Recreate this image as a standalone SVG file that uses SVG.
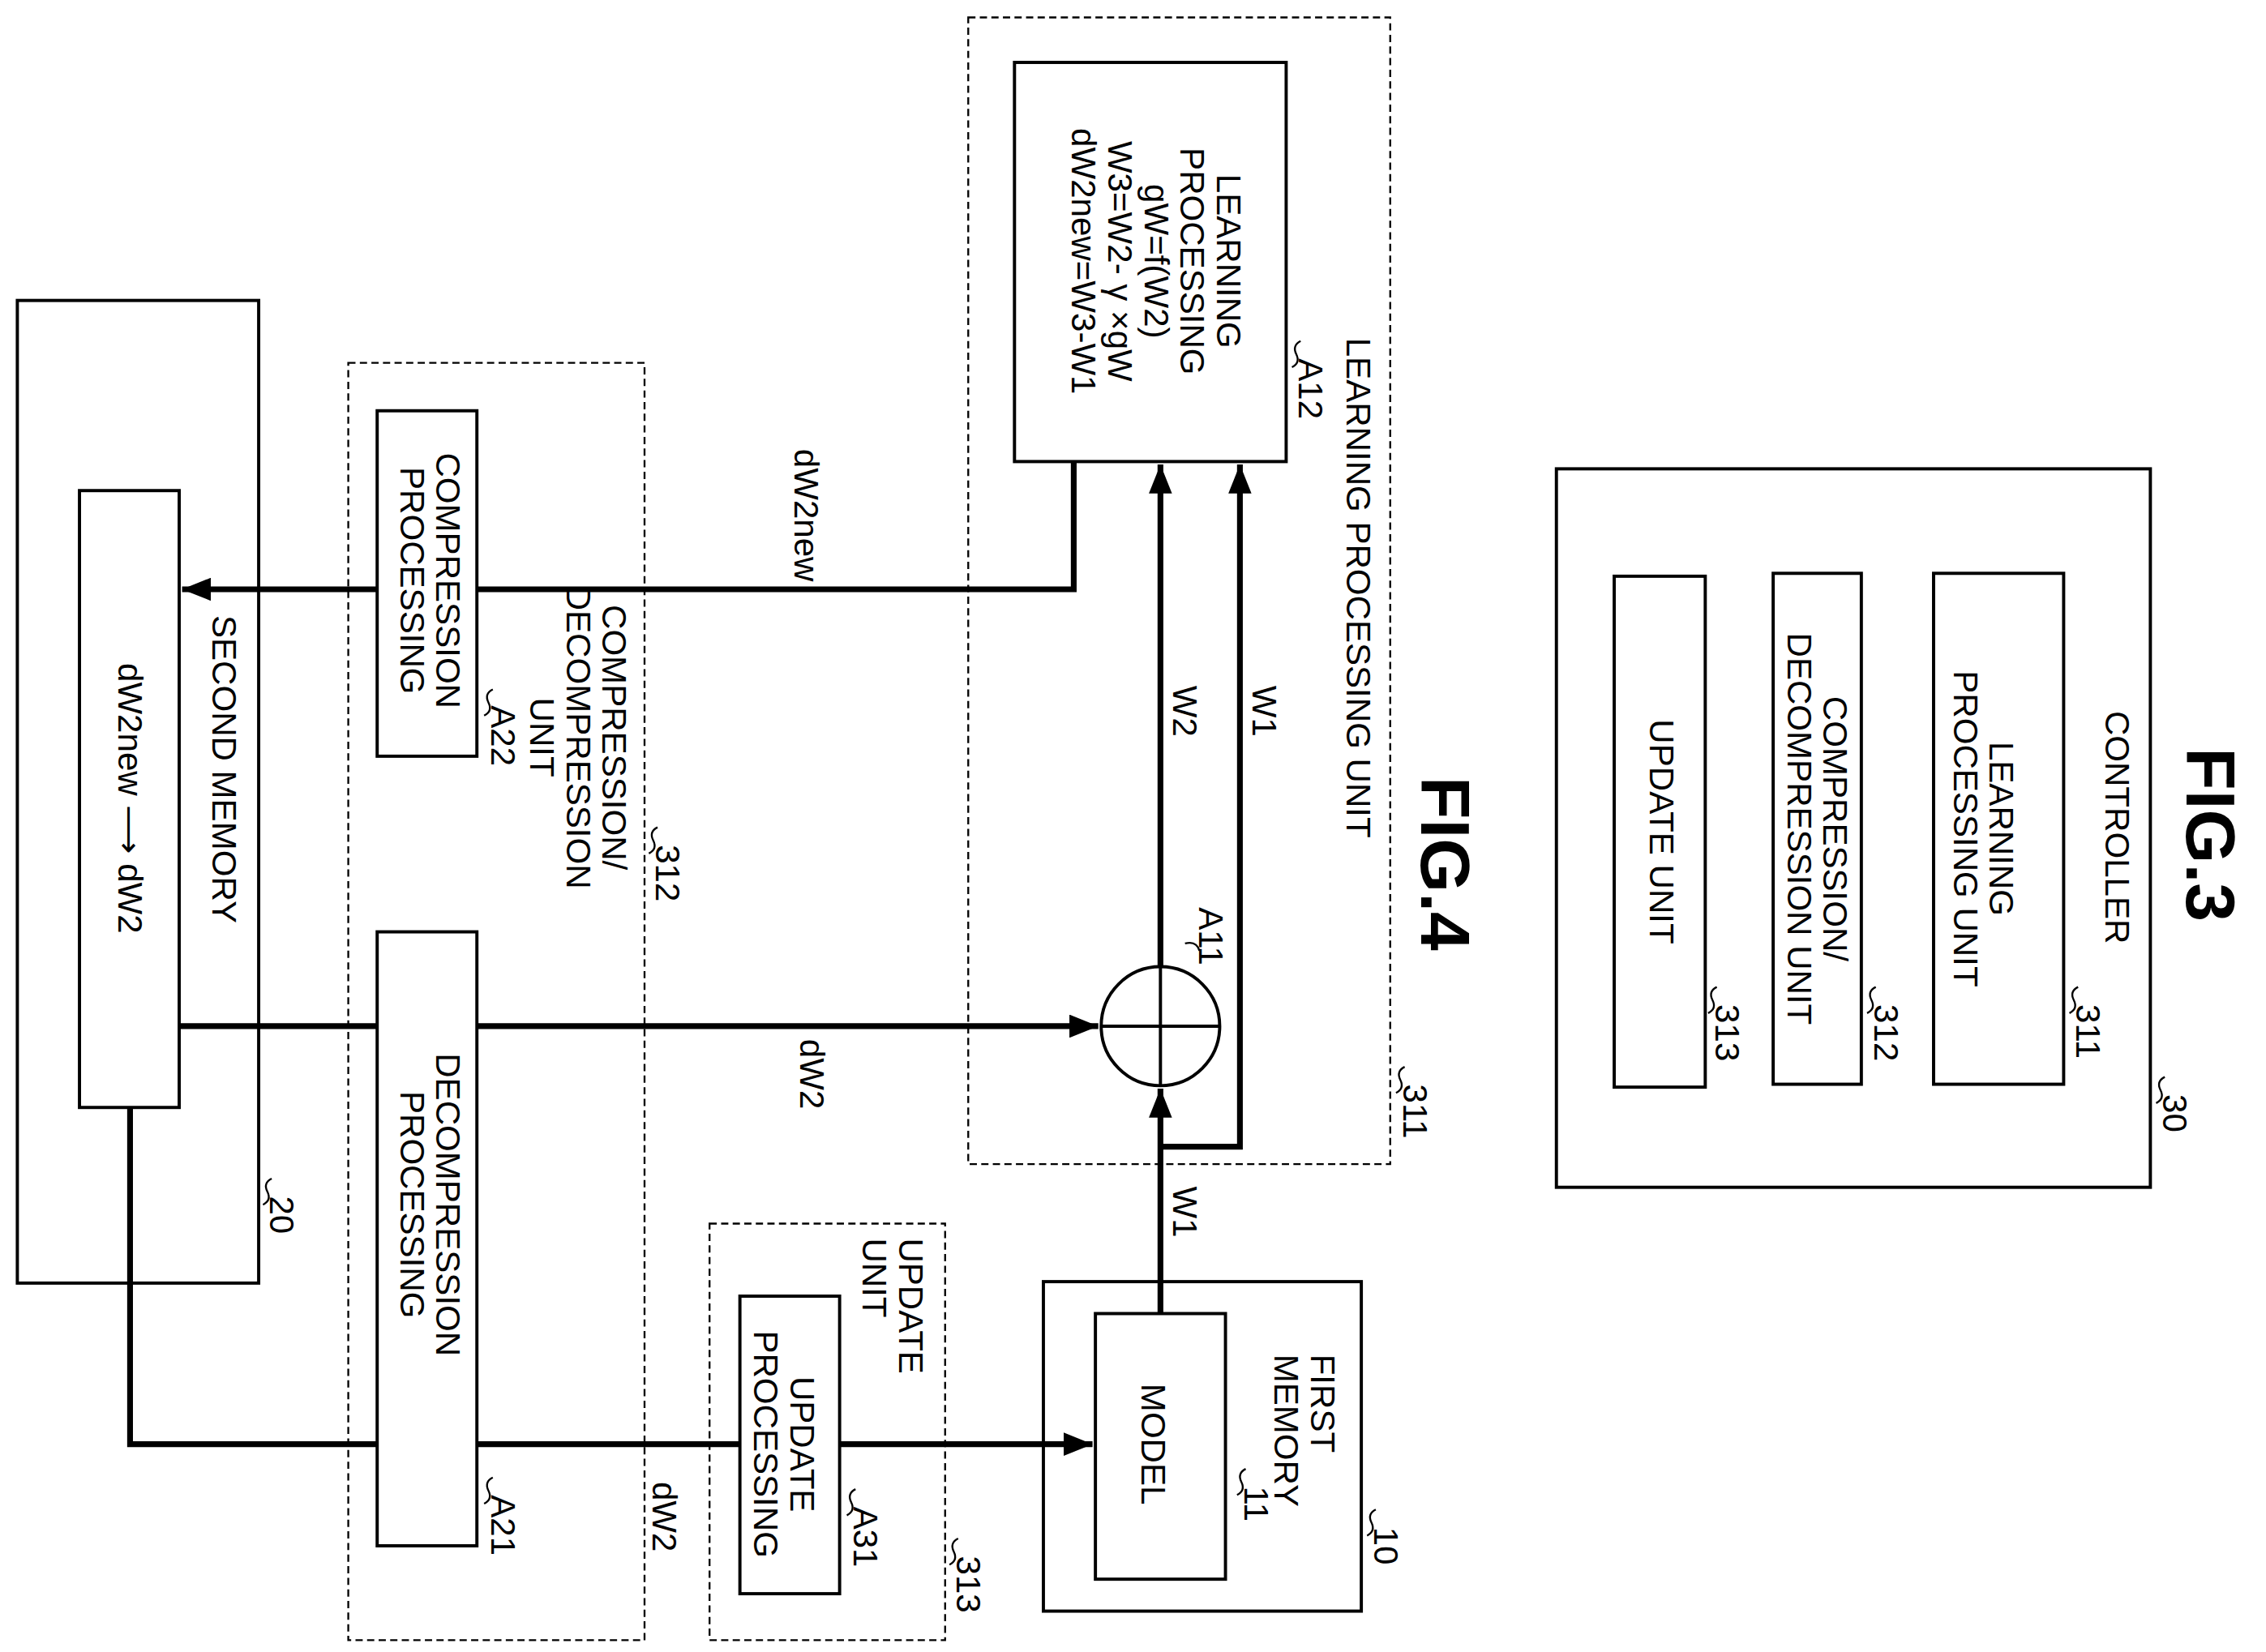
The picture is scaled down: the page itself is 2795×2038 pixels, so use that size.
<svg xmlns="http://www.w3.org/2000/svg" width="2795" height="2038" viewBox="0 0 2795 2038">
<defs>
<marker id="ah" viewBox="0 0 20 16" markerWidth="20" markerHeight="16" refX="20" refY="8" orient="auto" markerUnits="userSpaceOnUse"><path d="M0,0 L20,8 L0,16 z" fill="#000"/></marker>
<style>
.b{fill:#fff;stroke:#000;stroke-width:2.2}
.d{fill:none;stroke:#000;stroke-width:1.3;stroke-dasharray:5,3}
.c{fill:none;stroke:#000;stroke-width:4}
.s{fill:none;stroke:#000;stroke-width:1.3}
text{font-family:"Liberation Sans",Arial,sans-serif;font-size:23.5px;fill:#000;dominant-baseline:central;text-anchor:middle}
.st{text-anchor:start}
.f{font-size:48px;font-weight:bold}
</style>
</defs>
<rect width="2795" height="2038" fill="#fff"/>
<g transform="scale(1.7825,1.7906)">
<g id="second-memory">
<rect class="b" x="12" y="207" width="167" height="677"/>
<text transform="translate(155,530) rotate(90)">SECOND MEMORY</text>
<rect class="b" x="55" y="338" width="69" height="425"/>
<text transform="translate(90,550) rotate(90)">dW2new ⟶ dW2</text>
<path class="s" d="M188,812 q-6,3 -3,9 t-3,9"/><text class="st" transform="translate(195,824) rotate(90)">20</text>
</g>
<g id="comp-unit">
<rect class="d" x="241" y="250" width="205" height="880"/>
<text transform="translate(425,508) rotate(90)">COMPRESSION/</text>
<text transform="translate(400,508) rotate(90)">DECOMPRESSION</text>
<text transform="translate(375,508) rotate(90)">UNIT</text>
<path class="s" d="M455,570 q-6,3 -3,9 t-3,9"/><text class="st" transform="translate(462,582) rotate(90)">312</text>
</g>
<g id="A22">
<rect class="b" x="261" y="283" width="69" height="238"/>
<text transform="translate(310,400) rotate(90)">COMPRESSION</text>
<text transform="translate(285,400) rotate(90)">PROCESSING</text>
<path class="s" d="M341,475 q-6,3 -3,9 t-3,9"/><text class="st" transform="translate(348,486) rotate(90)">A22</text>
</g>
<g id="A21">
<rect class="b" x="261" y="642" width="69" height="423"/>
<text transform="translate(310,830) rotate(90)">DECOMPRESSION</text>
<text transform="translate(285,830) rotate(90)">PROCESSING</text>
<path class="s" d="M341,1018 q-6,3 -3,9 t-3,9"/><text class="st" transform="translate(348,1030) rotate(90)">A21</text>
</g>
<g id="update-unit">
<rect class="d" x="491" y="843" width="163" height="287"/>
<text class="st" transform="translate(630,853) rotate(90)">UPDATE</text>
<text class="st" transform="translate(605,853) rotate(90)">UNIT</text>
<path class="s" d="M663,1060 q-6,3 -3,9 t-3,9"/><text class="st" transform="translate(670,1072) rotate(90)">313</text>
</g>
<g id="A31">
<rect class="b" x="512" y="893" width="69" height="205"/>
<text transform="translate(555,995) rotate(90)">UPDATE</text>
<text transform="translate(530,995) rotate(90)">PROCESSING</text>
<path class="s" d="M592,1026 q-6,3 -3,9 t-3,9"/><text class="st" transform="translate(599,1038) rotate(90)">A31</text>
</g>
<g id="first-memory">
<rect class="b" x="722" y="883" width="220" height="227"/>
<text class="st" transform="translate(915,933) rotate(90)">FIRST</text>
<text class="st" transform="translate(890,933) rotate(90)">MEMORY</text>
<path class="s" d="M952,1040 q-6,3 -3,9 t-3,9"/><text class="st" transform="translate(959,1052) rotate(90)">10</text>
<rect class="b" x="758" y="905" width="90" height="183"/>
<text transform="translate(798,995) rotate(90)">MODEL</text>
<path class="s" d="M862,1012 q-6,3 -3,9 t-3,9"/><text class="st" transform="translate(869,1024) rotate(90)">11</text>
</g>
<g id="learning-unit">
<rect class="d" x="670" y="12" width="292" height="790"/>
<text transform="translate(940,405) rotate(90)">LEARNING PROCESSING UNIT</text>
<path class="s" d="M972,735 q-6,3 -3,9 t-3,9"/><text class="st" transform="translate(979,747) rotate(90)">311</text>
</g>
<g id="A12">
<rect class="b" x="702" y="43" width="188" height="275"/>
<text transform="translate(850,180) rotate(90)">LEARNING</text>
<text transform="translate(825,180) rotate(90)">PROCESSING</text>
<text transform="translate(800,180) rotate(90)">gW=f(W2)</text>
<text transform="translate(775,180) rotate(90)">W3=W2- γ ×gW</text>
<text transform="translate(750,180) rotate(90)">dW2new=W3-W1</text>
<path class="s" d="M900,235 q-6,3 -3,9 t-3,9"/><text class="st" transform="translate(907,247) rotate(90)">A12</text>
</g>
<g id="A11">
<circle class="b" cx="803" cy="707" r="41"/>
<path class="s" d="M762,707 H844 M803,666 V748" style="stroke-width:2.2"/>
<path class="s" d="M820,650 q8,-2 10,5"/><text class="st" transform="translate(838,625) rotate(90)">A11</text>
</g>
<g id="controller">
<rect class="b" x="1077" y="323" width="411" height="495"/>
<text transform="translate(1465,570) rotate(90)">CONTROLLER</text>
<path class="s" d="M1498,742 q-6,3 -3,9 t-3,9"/><text class="st" transform="translate(1505,754) rotate(90)">30</text>
<rect class="b" x="1338" y="395" width="90" height="352"/>
<text transform="translate(1385,571) rotate(90)">LEARNING</text>
<text transform="translate(1360,571) rotate(90)">PROCESSING UNIT</text>
<path class="s" d="M1438,680 q-6,3 -3,9 t-3,9"/><text class="st" transform="translate(1445,692) rotate(90)">311</text>
<rect class="b" x="1227" y="395" width="61" height="352"/>
<text transform="translate(1270,571) rotate(90)">COMPRESSION/</text>
<text transform="translate(1245,571) rotate(90)">DECOMPRESSION UNIT</text>
<path class="s" d="M1298,680 q-6,3 -3,9 t-3,9"/><text class="st" transform="translate(1305,692) rotate(90)">312</text>
<rect class="b" x="1117" y="397" width="63" height="352"/>
<text transform="translate(1150,573) rotate(90)">UPDATE UNIT</text>
<path class="s" d="M1188,680 q-6,3 -3,9 t-3,9"/><text class="st" transform="translate(1195,692) rotate(90)">313</text>
</g>
<text class="f" transform="translate(1000,595) rotate(90)">FIG.4</text>
<text class="f" transform="translate(1530,575) rotate(90)">FIG.3</text>
<g id="connectors">
<path class="c" d="M743,318 V406 H330"/>
<path class="c" d="M261,406 H126" marker-end="url(#ah)"/>
<path class="c" d="M124,707 H261"/>
<path class="c" d="M330,707 H760" marker-end="url(#ah)"/>
<path class="c" d="M803,666 V320" marker-end="url(#ah)"/>
<path class="c" d="M803,905 V750" marker-end="url(#ah)"/>
<path class="c" d="M803,790 H858 V320" marker-end="url(#ah)"/>
<path class="c" d="M90,763 V995 H261"/>
<path class="c" d="M330,995 H512"/>
<path class="c" d="M581,995 H756" marker-end="url(#ah)"/>
<text transform="translate(558,355) rotate(90)">dW2new</text>
<text transform="translate(562,740) rotate(90)">dW2</text>
<text transform="translate(820,490) rotate(90)">W2</text>
<text transform="translate(875,490) rotate(90)">W1</text>
<text transform="translate(820,835) rotate(90)">W1</text>
<text transform="translate(460,1045) rotate(90)">dW2</text>
</g>
</g>
</svg>
